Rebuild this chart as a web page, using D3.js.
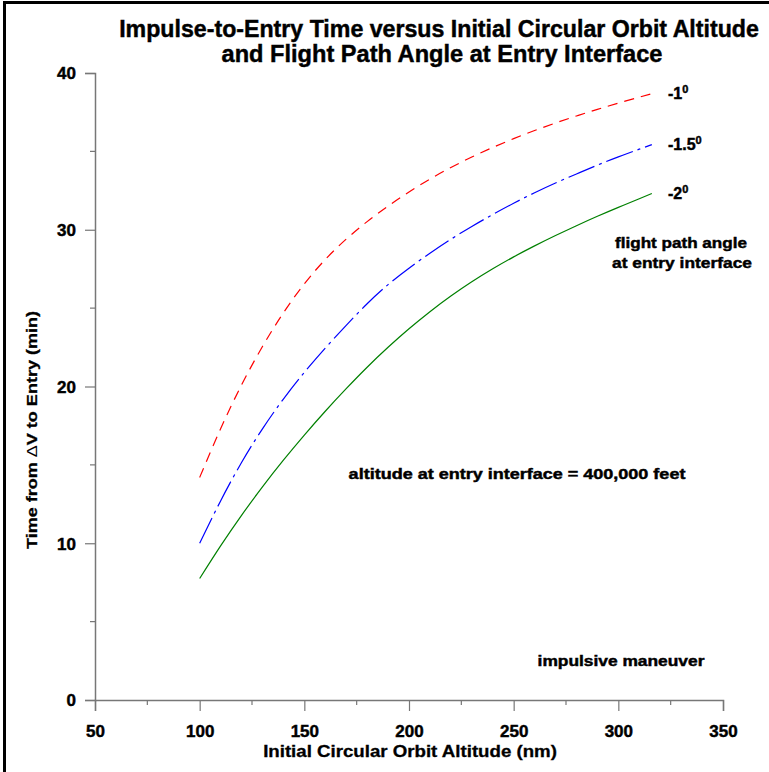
<!DOCTYPE html>
<html lang="en">
<head>
    <meta charset="UTF-8">
    <title>Impulse-to-Entry Time</title>
    <script src="https://d3js.org/d3.v7.min.js"></script>
    <style>
        body { margin: 0; background: #fff; }
        svg { font-family: "Liberation Sans", Arial, sans-serif; }
        .heavy { font-weight: bold; stroke: #000; stroke-width: 0.45px; paint-order: stroke; }
        .tick-label { font-size: 17px; }
        .note { font-size: 14.5px; }
    </style>
</head>
<body>
    <div id="chart"></div>

    <script>
        // altitude (nm) and time to entry (min) for each flight path angle
        const altitudes = [100, 110, 120, 130, 140, 150, 160, 170, 180, 190, 200, 210, 220, 230, 240, 250, 260, 270, 280, 290, 300, 310, 316];
        const timeMinus1 = [14.2, 17.3, 20.1, 22.55, 24.7, 26.55, 28.1, 29.4, 30.52, 31.51, 32.41, 33.23, 33.97, 34.64, 35.25, 35.81, 36.33, 36.81, 37.26, 37.68, 38.08, 38.46, 38.68];
        const timeMinus15 = [10.0, 12.7, 15.15, 17.3, 19.2, 20.9, 22.45, 23.9, 25.28, 26.5, 27.55, 28.5, 29.39, 30.21, 30.97, 31.69, 32.36, 32.98, 33.56, 34.12, 34.65, 35.14, 35.43];
        const timeMinus2 = [7.75, 9.83, 11.78, 13.6, 15.3, 16.9, 18.42, 19.86, 21.23, 22.5, 23.68, 24.77, 25.77, 26.68, 27.51, 28.27, 28.97, 29.63, 30.26, 30.86, 31.43, 31.98, 32.31];

        const xTicks = [50, 100, 150, 200, 250, 300, 350];
        const xMinorTicks = [75, 125, 175, 225, 275, 325];
        const yTicks = [0, 10, 20, 30, 40];
        const yMinorTicks = [5, 15, 25, 35];

        const series = [
            {label: "-1", values: timeMinus1, color: "#ff0000", dash: "10,7"},
            {label: "-1.5", values: timeMinus15, color: "#0000ff", dash: "28,5,3,5"},
            {label: "-2", values: timeMinus2, color: "#008000", dash: null}
        ];

        const width = 769, height = 772;
        const svg = d3.select("#chart").append("svg")
                      .attr("width", width)
                      .attr("height", height);

        // outer frame
        svg.append("rect").attr("x", 4.5).attr("y", 2.5).attr("width", 900).attr("height", 900)
           .attr("fill", "none").attr("stroke", "#000").attr("stroke-width", 3);

        const x = d3.scaleLinear().domain([50, 350]).range([95, 723]);
        const y = d3.scaleLinear().domain([0, 40]).range([700, 73]);

        // x axis
        const xAxis = svg.append("g").attr("transform", "translate(0,700)")
            .call(d3.axisBottom(x).tickValues(xTicks).tickSize(11).tickFormat(d3.format("d")));
        xAxis.append("g").selectAll("line").data(xMinorTicks).enter().append("line")
             .attr("x1", d => x(d)).attr("x2", d => x(d)).attr("y1", 0).attr("y2", 5);

        // y axis
        const yAxis = svg.append("g").attr("transform", "translate(95,0)")
            .call(d3.axisLeft(y).tickValues(yTicks).tickSize(10).tickFormat(d3.format("d")));
        yAxis.append("g").selectAll("line").data(yMinorTicks).enter().append("line")
             .attr("x1", 0).attr("x2", -5).attr("y1", d => y(d)).attr("y2", d => y(d));

        [xAxis, yAxis].forEach(g => {
            g.select(".domain").attr("stroke", "#777").attr("stroke-width", 1.5);
            g.selectAll("line").attr("stroke", "#777").attr("stroke-width", 1.2);
            g.selectAll("text").attr("class", "tick-label heavy").attr("fill", "#000")
             .attr("font-family", "'Liberation Sans', Arial, sans-serif");
        });
        xAxis.selectAll(".tick text").attr("dy", null).attr("y", 37);
        yAxis.selectAll(".tick text").attr("x", -19).attr("dy", "0.35em");

        // curves
        const line = d3.line().x(d => x(d[0])).y(d => y(d[1])).curve(d3.curveNatural);
        series.forEach(s => {
            svg.append("path")
               .datum(altitudes.map((a, i) => [a, s.values[i]]))
               .attr("d", line)
               .attr("fill", "none")
               .attr("stroke", s.color)
               .attr("stroke-width", 1.2)
               .attr("stroke-dasharray", s.dash);

            const last = s.values[s.values.length - 1];
            const lab = svg.append("text").attr("class", "heavy")
               .attr("x", 668).attr("y", y(last) + 5)
               .attr("font-size", 16)
               .text(s.label);
            lab.append("tspan").attr("font-size", 11).attr("dy", -6).text("0");
        });

        // squeeze a centred text horizontally to a target width (condensed look)
        function fitText(sel, cx, cy, target, rotate) {
            const w = sel.node().getComputedTextLength();
            sel.attr("x", 0).attr("y", 0).attr("text-anchor", "middle")
               .attr("transform", `translate(${cx},${cy})${rotate ? " rotate(" + rotate + ")" : ""} scale(${target / w},1)`);
        }

        // titles
        fitText(svg.append("text").attr("class", "heavy").attr("font-size", 24)
           .text("Impulse-to-Entry Time versus Initial Circular Orbit Altitude"), 439, 37, 640);
        fitText(svg.append("text").attr("class", "heavy").attr("font-size", 24)
           .text("and Flight Path Angle at Entry Interface"), 442, 62, 441);

        fitText(svg.append("text").attr("class", "heavy").attr("font-size", 16).style("stroke-width", "0.3px")
           .text("Initial Circular Orbit Altitude (nm)"), 410, 757, 294);

        const yTitle = svg.append("text").attr("class", "heavy").attr("font-size", 15.5)
           .style("stroke-width", "0.3px");
        yTitle.append("tspan").text("Time from ");
        yTitle.append("tspan").attr("font-weight", "normal").style("stroke-width", "0px").text("\u0394");
        yTitle.append("tspan").text("V to Entry (min)");
        fitText(yTitle, 37, 430, 238, -90);

        // annotations
        fitText(svg.append("text").attr("class", "note heavy")
           .text("altitude at entry interface = 400,000 feet"), 517, 479, 337);
        fitText(svg.append("text").attr("class", "note heavy")
           .text("impulsive maneuver"), 621, 666, 167);
        fitText(svg.append("text").attr("class", "note heavy")
           .text("flight path angle"), 681, 248, 132);
        fitText(svg.append("text").attr("class", "note heavy")
           .text("at entry interface"), 682, 268, 140);
    </script>
</body>
</html>
